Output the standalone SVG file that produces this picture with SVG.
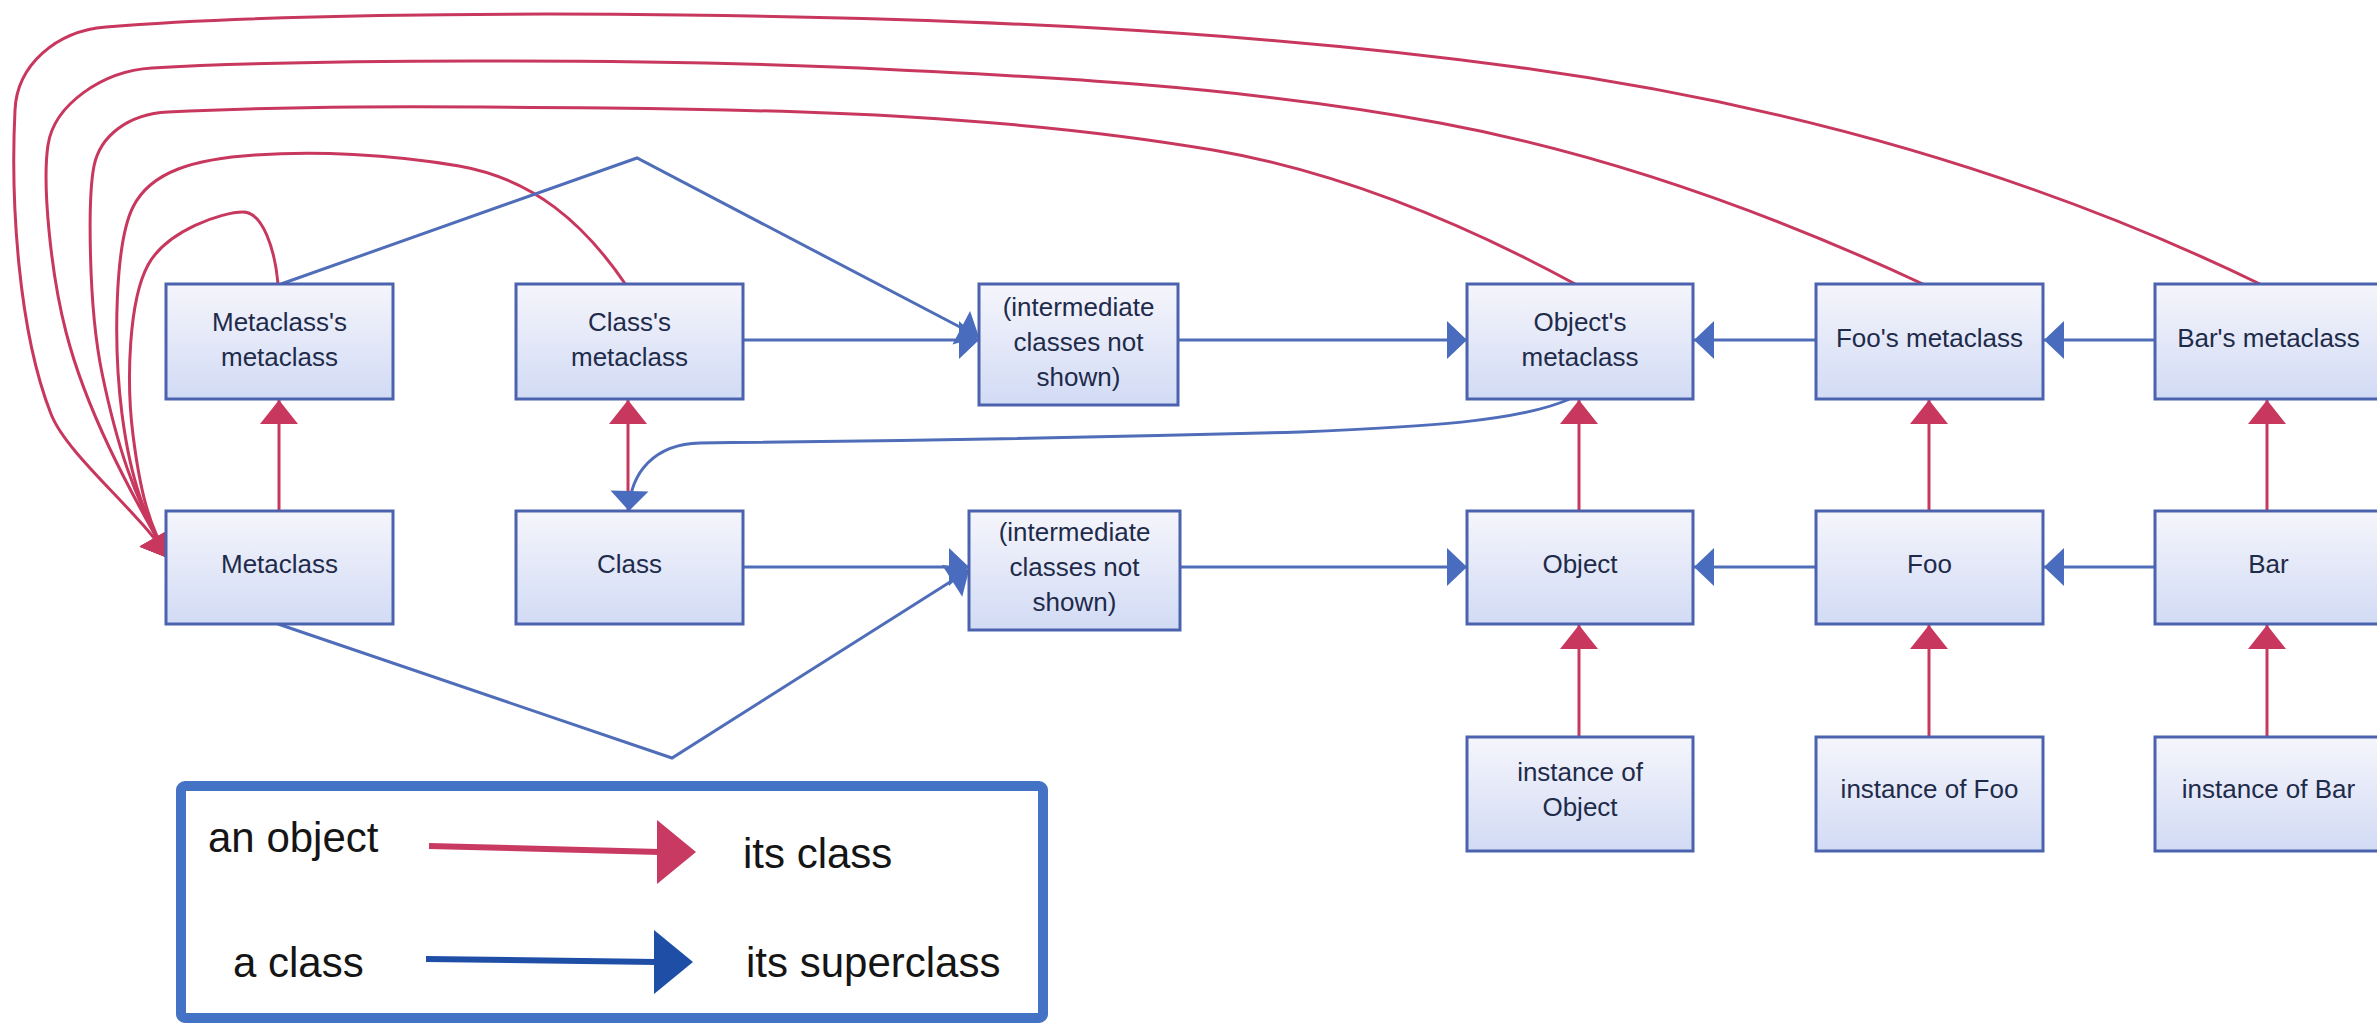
<svg xmlns="http://www.w3.org/2000/svg" width="2377" height="1023" viewBox="0 0 2377 1023">
<style>
.box{fill:url(#boxfill);stroke:#4B62AE;stroke-width:3}
.lbl{font-family:"Liberation Sans",Arial,sans-serif;font-size:26px;fill:#1E2B4A;text-anchor:middle}
.red{fill:none;stroke:#C8385E;stroke-width:3;marker-end:url(#ra)}
.blue{fill:none;stroke:#4F6DB8;stroke-width:3;marker-end:url(#ba)}
.leg{font-family:"Liberation Sans",Arial,sans-serif;font-size:42px;fill:#151515}
</style>
<defs>
<linearGradient id="boxfill" x1="0" y1="0" x2="0" y2="1">
<stop offset="0" stop-color="#F5F5FB"/>
<stop offset="1" stop-color="#D2DBF5"/>
</linearGradient>
<marker id="ra" markerUnits="userSpaceOnUse" markerWidth="26" markerHeight="40" refX="24" refY="20" orient="auto" overflow="visible">
<path d="M0,1 L24,20 L0,39 Z" fill="#C8385E"/>
</marker>
<marker id="ba" markerUnits="userSpaceOnUse" markerWidth="22" markerHeight="40" refX="20" refY="20" orient="auto" overflow="visible">
<path d="M0,1 L20,20 L0,39 Z" fill="#4A6CBE"/>
</marker>
</defs>
<rect width="2377" height="1023" fill="#FFFFFF"/>

<g id="connectors">
<!-- red: instance-of arrows (curves to Metaclass) -->
<path class="red" d="M2262,285 C2028,171 1774,102 1516,67 C1239,29.5 962,18.7 682,15 C492,12.5 256,15 106,27 C56,31 17,65 15,110 C10.5,200 18,330 51,414 C67.4,456 143,515 168,558"/>
<path class="red" d="M1925,285 C1771,213 1607,154 1440,123 C1243,86 1034,75.6 834,67 C634,58.4 302,59.4 152,68 C102,71 54,105 48,145 C42,185 51,274 66,332 C86,410 128,488 168,558"/>
<path class="red" d="M1577,285 C1463,223 1341,172 1213,150 C1013,116 806,110 606,108 C406,106 290,106 168,112 C128,114 100,136 94,166 C88,196 88,305 102,373 C116,441 133,497 168,558"/>
<path class="red" d="M626,285 C584,223 533,179 459,166 C389,154 315,151 255,155 C195,159 151,171 133,207 C115,243 113,344 122,414 C131,484 146,518 168,558"/>
<path class="red" d="M278,284 C275,250 263,212 243,212 C223,212 167,230 148,265 C129,300 126,380 133,435 C140,490 148,523 168,558"/>
<!-- red: vertical -->
<path class="red" d="M279,511 L279,400"/>
<path class="red" d="M628,511 L628,400"/>
<path class="red" d="M1579,511 L1579,400"/>
<path class="red" d="M1929,511 L1929,400"/>
<path class="red" d="M2267,511 L2267,400"/>
<path class="red" d="M1579,737 L1579,625"/>
<path class="red" d="M1929,737 L1929,625"/>
<path class="red" d="M2267,737 L2267,625"/>
<!-- blue: superclass arrows -->
<path class="blue" d="M281,284 L637,158 L979,337"/>
<path class="blue" d="M743,340 L979,340"/>
<path class="blue" d="M1178,340 L1467,340"/>
<path class="blue" d="M1816,340 L1694,340"/>
<path class="blue" d="M2155,340 L2044,340"/>
<path class="blue" d="M278,624 L672,758 L969,570"/>
<path class="blue" d="M743,567 L969,567"/>
<path class="blue" d="M1180,567 L1467,567"/>
<path class="blue" d="M1816,567 L1694,567"/>
<path class="blue" d="M2155,567 L2044,567"/>
<path class="blue" d="M1572,398 C1520,422 1420,427 1300,432 C1000,440 800,442 700,443 C655,444 630,472 629,511"/>
</g>

<g id="node-metaclass-metaclass">
<rect class="box" x="166" y="284" width="227" height="115"/>
<text class="lbl" x="279.5" y="331">Metaclass's</text>
<text class="lbl" x="279.5" y="366">metaclass</text>
</g>
<g id="node-class-metaclass">
<rect class="box" x="516" y="284" width="227" height="115"/>
<text class="lbl" x="629.5" y="331">Class's</text>
<text class="lbl" x="629.5" y="366">metaclass</text>
</g>
<g id="node-intermediate-upper">
<rect class="box" x="979" y="284" width="199" height="121"/>
<text class="lbl" x="1078.5" y="316">(intermediate</text>
<text class="lbl" x="1078.5" y="351">classes not</text>
<text class="lbl" x="1078.5" y="386">shown)</text>
</g>
<g id="node-object-metaclass">
<rect class="box" x="1467" y="284" width="226" height="115"/>
<text class="lbl" x="1580" y="331">Object's</text>
<text class="lbl" x="1580" y="366">metaclass</text>
</g>
<g id="node-foo-metaclass">
<rect class="box" x="1816" y="284" width="227" height="115"/>
<text class="lbl" x="1929.5" y="347">Foo's metaclass</text>
</g>
<g id="node-bar-metaclass">
<rect class="box" x="2155" y="284" width="227" height="115"/>
<text class="lbl" x="2268.5" y="347">Bar's metaclass</text>
</g>

<g id="node-metaclass">
<rect class="box" x="166" y="511" width="227" height="113"/>
<text class="lbl" x="279.5" y="573">Metaclass</text>
</g>
<g id="node-class">
<rect class="box" x="516" y="511" width="227" height="113"/>
<text class="lbl" x="629.5" y="573">Class</text>
</g>
<g id="node-intermediate-lower">
<rect class="box" x="969" y="511" width="211" height="119"/>
<text class="lbl" x="1074.5" y="541">(intermediate</text>
<text class="lbl" x="1074.5" y="576">classes not</text>
<text class="lbl" x="1074.5" y="611">shown)</text>
</g>
<g id="node-object">
<rect class="box" x="1467" y="511" width="226" height="113"/>
<text class="lbl" x="1580" y="573">Object</text>
</g>
<g id="node-foo">
<rect class="box" x="1816" y="511" width="227" height="113"/>
<text class="lbl" x="1929.5" y="573">Foo</text>
</g>
<g id="node-bar">
<rect class="box" x="2155" y="511" width="227" height="113"/>
<text class="lbl" x="2268.5" y="573">Bar</text>
</g>

<g id="node-instance-object">
<rect class="box" x="1467" y="737" width="226" height="114"/>
<text class="lbl" x="1580" y="781">instance of</text>
<text class="lbl" x="1580" y="816">Object</text>
</g>
<g id="node-instance-foo">
<rect class="box" x="1816" y="737" width="227" height="114"/>
<text class="lbl" x="1929.5" y="798">instance of Foo</text>
</g>
<g id="node-instance-bar">
<rect class="box" x="2155" y="737" width="227" height="114"/>
<text class="lbl" x="2268.5" y="798">instance of Bar</text>
</g>

<g id="legend">
<rect x="181" y="786" width="862" height="232" rx="4" fill="#FFFFFF" stroke="#4472C4" stroke-width="10"/>
<text class="leg" x="208" y="852">an object</text>
<line x1="429" y1="846" x2="660" y2="852" stroke="#C93A62" stroke-width="6"/>
<path d="M657,820 L696,852 L657,884 Z" fill="#C93A62"/>
<text class="leg" x="743" y="868">its class</text>
<text class="leg" x="233" y="977">a class</text>
<line x1="426" y1="959" x2="657" y2="962" stroke="#1F4EA6" stroke-width="6"/>
<path d="M654,930 L693,962 L654,994 Z" fill="#1F4EA6"/>
<text class="leg" x="746" y="977">its superclass</text>
</g>
</svg>
